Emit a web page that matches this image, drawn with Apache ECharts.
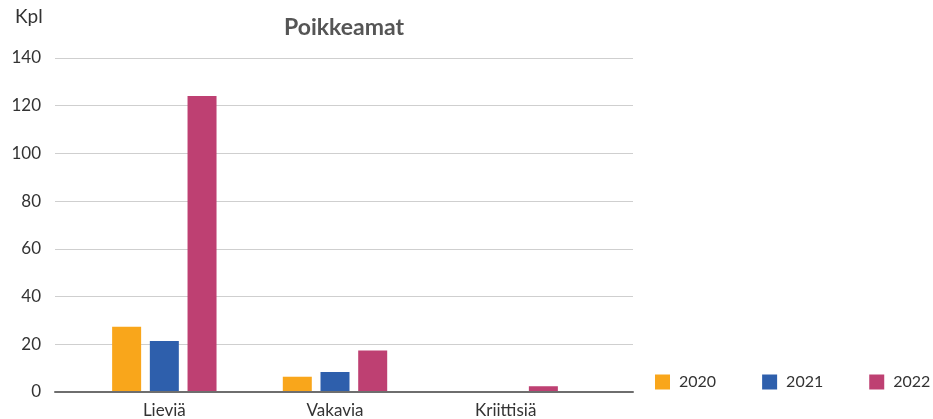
<!DOCTYPE html>
<html><head><meta charset="utf-8">
<script src="https://cdn.jsdelivr.net/npm/echarts@6/dist/echarts.min.js"></script>
<style>html,body{margin:0;padding:0;background:#fff}#c{width:933px;height:419px}</style>
</head><body><div id="c"></div>
<script>
const categories = ['Lieviä', 'Vakavia', 'Kriittisiä'];
const v2020 = [27, 6, 0];
const v2021 = [21, 8, 0];
const v2022 = [124, 17, 2];
const seriesNames = ['2020', '2021', '2022'];
const colors = ['#F9A61B', '#2E5FAC', '#BE4072'];
const FONT = 'Lato';

const chart = echarts.init(document.getElementById('c'));
const data = [v2020, v2021, v2022];
chart.setOption({
  animation: false,
  textStyle: { fontFamily: FONT },
  title: {
    text: 'Poikkeamat', left: 344, top: 16, textAlign: 'center', padding: 0,
    textStyle: { fontFamily: FONT, fontSize: 23, fontWeight: 'bold', color: '#555' }
  },
  graphic: [{ type: 'text', left: 15, top: 7, style: { text: 'Kpl', font: '19px ' + FONT, fill: '#333' } }],
  legend: {
    left: 655, top: 374, width: 278, padding: 0, icon: 'rect', itemWidth: 15, itemHeight: 15, itemGap: 46,
    textStyle: { fontFamily: FONT, fontSize: 16, color: '#333', padding: [0, 0, 0, 4] },
    data: seriesNames
  },
  grid: [
    { left: 55, right: 300, top: 58, bottom: 27 },
    { left: 79, right: 342, top: 58, bottom: 27 }
  ],
  xAxis: [
    { gridIndex: 0, type: 'category', data: [''], axisLine: { lineStyle: { color: '#6e6e6e', width: 2 } },
      axisTick: { show: false }, axisLabel: { show: false } },
    { gridIndex: 1, type: 'category', data: categories, axisLine: { show: false }, axisTick: { show: false },
      axisLabel: { fontFamily: FONT, fontSize: 17, color: '#333', margin: 11 } }
  ],
  yAxis: [
    { gridIndex: 0, type: 'value', min: 0, max: 140, interval: 20,
      axisLabel: { fontFamily: FONT, fontSize: 17, color: '#333', margin: 14 },
      splitLine: { lineStyle: { color: '#cfcfcf', width: 1 } }, axisLine: { show: false }, axisTick: { show: false } },
    { gridIndex: 1, type: 'value', min: 0, max: 140, interval: 20, show: false, splitLine: { show: false } }
  ],
  series: seriesNames.map((n, i) => ({
    name: n, type: 'bar', xAxisIndex: 1, yAxisIndex: 1, data: data[i],
    barWidth: 29, barGap: '30%', itemStyle: { color: colors[i] }
  }))
});
</script></body></html>
